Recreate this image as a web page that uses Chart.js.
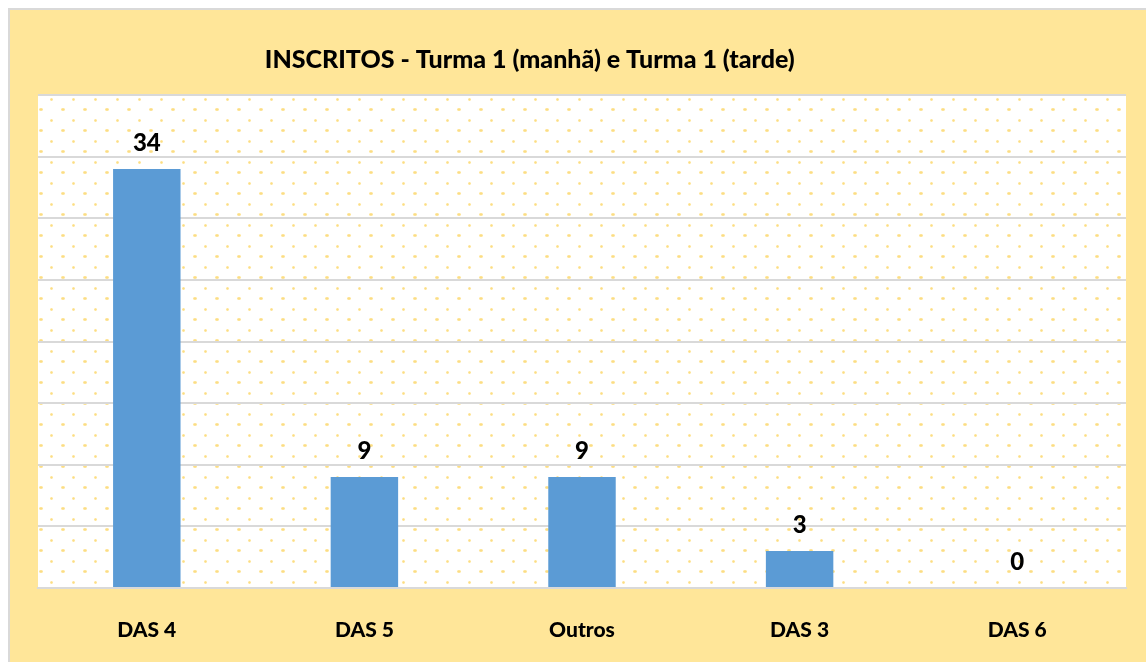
<!DOCTYPE html>
<html><head><meta charset="utf-8">
<script src="https://cdn.jsdelivr.net/npm/chart.js@4.4.1/dist/chart.umd.min.js"></script>
<style>html,body{margin:0;padding:0;background:#fff;}#wrap{width:1146px;height:662px;position:relative;}</style>
</head><body><div id="wrap"><canvas id="c" width="1146" height="662"></canvas></div>
<script>
const categories = ["DAS 4", "DAS 5", "Outros", "DAS 3", "DAS 6"];
const inscritos = [34, 9, 9, 3, 0];
const yTicks = [0, 5, 10, 15, 20, 25, 30, 35, 40];
const chartTitle = "INSCRITOS - Turma 1 (manhã) e Turma 1 (tarde)";
const FONT = "Lato, 'Open Sans', sans-serif";

function makePattern(ctx){
  const t = document.createElement('canvas');
  t.width = 22; t.height = 21;
  const g = t.getContext('2d');
  g.fillStyle = '#ffffff'; g.fillRect(0,0,22,21);
  function dot(x,y){
    g.fillStyle = '#FFF3CF'; g.fillRect(x-1,y-1,3,3);
    g.fillStyle = '#FDE59C'; g.fillRect(x,y-1,1,3); g.fillRect(x-1,y,3,1);
    g.fillStyle = '#FBDC85'; g.fillRect(x,y,1,1);
  }
  dot(10,1); dot(21,11); dot(0,11);
  return ctx.createPattern(t,'repeat');
}

const bgPlugin = {
  id:'bg',
  beforeDraw(chart){
    const ctx = chart.ctx, a = chart.chartArea;
    ctx.save();
    ctx.fillStyle = '#ffffff'; ctx.fillRect(0,0,chart.width,chart.height);
    ctx.fillStyle = '#D9D9D9'; ctx.fillRect(8,8,chart.width-8,chart.height-8);
    ctx.fillStyle = '#FFE699'; ctx.fillRect(10,10,chart.width-10,chart.height-10);
    ctx.fillStyle = '#ffffff'; ctx.fillRect(a.left,a.top,a.right-a.left,a.bottom-a.top);
    const p = makePattern(ctx);
    ctx.translate(a.left+3, a.top+3);
    ctx.fillStyle = p; ctx.fillRect(-3,-3,a.right-a.left,a.bottom-a.top);
    ctx.restore();
    // title
    ctx.save();
    ctx.fillStyle = '#000'; ctx.font = "900 25px " + FONT;
    ctx.textAlign = 'center'; ctx.textBaseline = 'middle';
    ctx.fillText(chartTitle, a.left + (a.right-a.left)*0.452, a.top - 35);
    ctx.restore();
  }
};
const labelPlugin = {
  id:'labels',
  afterDatasetsDraw(chart){
    const ctx = chart.ctx, meta = chart.getDatasetMeta(0);
    ctx.save();
    ctx.fillStyle = '#000'; ctx.font = "900 24px " + FONT;
    ctx.textAlign = 'center'; ctx.textBaseline = 'alphabetic';
    meta.data.forEach((b,i)=>{ ctx.fillText(String(inscritos[i]), b.x, b.y - 18); });
    ctx.restore();
  }
};

new Chart(document.getElementById('c'), {
  type:'bar',
  data:{ labels: categories, datasets:[{ data: inscritos, backgroundColor:'#5B9BD5', categoryPercentage:1, barPercentage:0.31 }]},
  options:{
    responsive:false, animation:false,
    layout:{ padding:{ left:38, right:20, top:95, bottom:0 } },
    plugins:{ legend:{display:false}, tooltip:{enabled:false}, title:{display:false} },
    scales:{
      x:{ grid:{display:false}, border:{display:true, color:'#D9D9D9', width:2},
          afterFit(s){ s.height = 74; },
          ticks:{ color:'#000', font:{family:FONT, size:21, weight:'900'}, padding:22 } },
      y:{ min:0, max:40, afterBuildTicks(s){ s.ticks = yTicks.map(v=>({value:v})); },
          grid:{ color:'#D9D9D9', lineWidth:2, drawTicks:false }, border:{display:false},
          ticks:{ display:false } }
    }
  },
  plugins:[bgPlugin, labelPlugin]
});
</script></body></html>
